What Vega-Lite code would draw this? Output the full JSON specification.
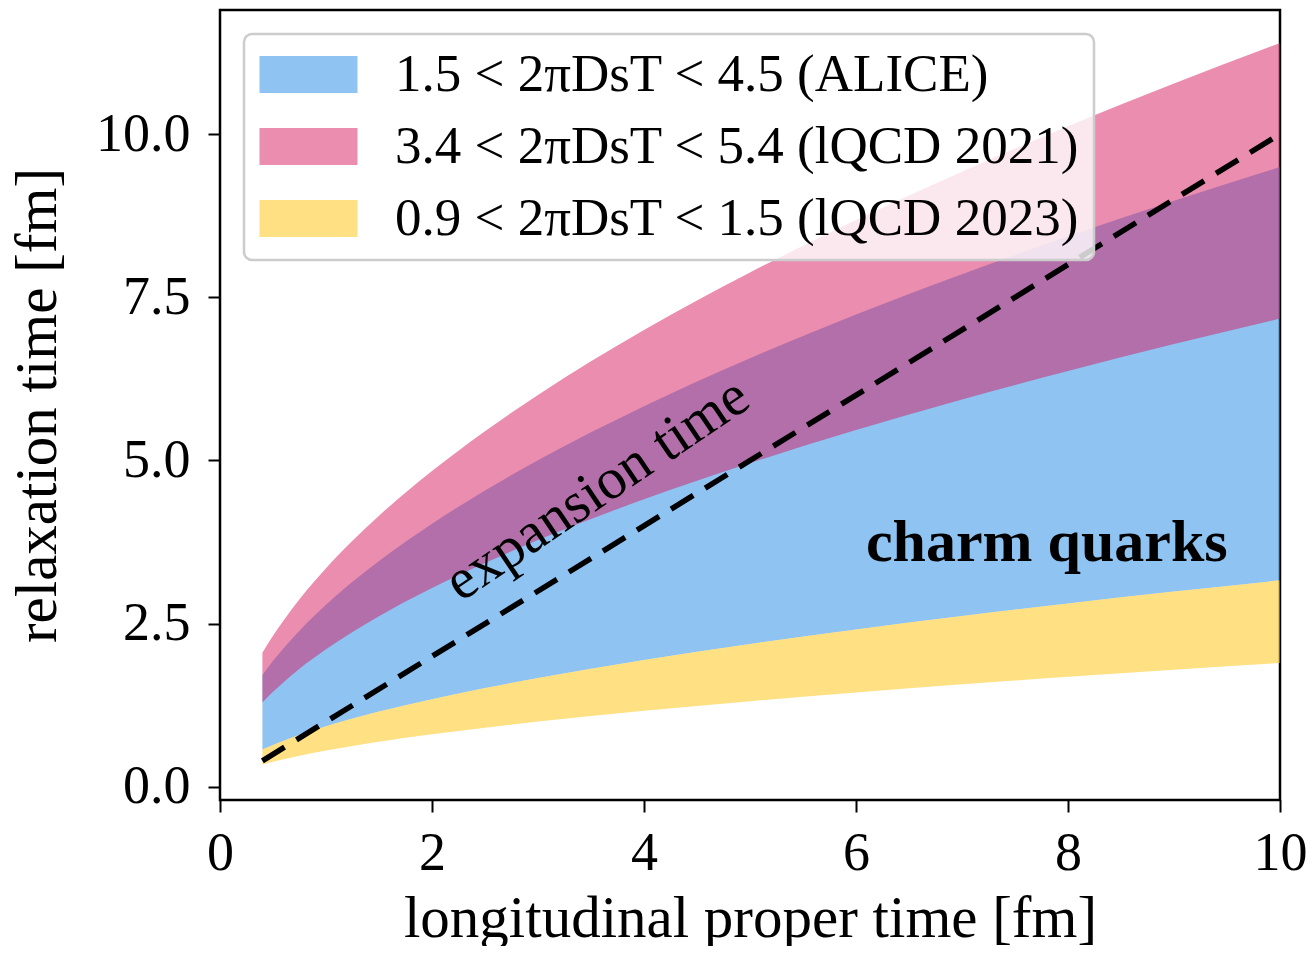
{
  "$schema": "https://vega.github.io/schema/vega-lite/v6.json",
  "width": 1060,
  "height": 790,
  "autosize": {"type": "none"},
  "padding": {"left": 220, "top": 10, "right": 31, "bottom": 146},
  "background": "white",
  "datasets": {
    "bands": [
      {"tau": 0.4, "lo": 0.572, "hi": 1.715, "band": "1.5 < 2πDsT < 4.5 (ALICE)"},
      {"tau": 0.5, "lo": 0.644, "hi": 1.931, "band": "1.5 < 2πDsT < 4.5 (ALICE)"},
      {"tau": 0.6, "lo": 0.708, "hi": 2.124, "band": "1.5 < 2πDsT < 4.5 (ALICE)"},
      {"tau": 0.75, "lo": 0.798, "hi": 2.394, "band": "1.5 < 2πDsT < 4.5 (ALICE)"},
      {"tau": 1, "lo": 0.93, "hi": 2.79, "band": "1.5 < 2πDsT < 4.5 (ALICE)"},
      {"tau": 1.25, "lo": 1.047, "hi": 3.141, "band": "1.5 < 2πDsT < 4.5 (ALICE)"},
      {"tau": 1.5, "lo": 1.154, "hi": 3.461, "band": "1.5 < 2πDsT < 4.5 (ALICE)"},
      {"tau": 2, "lo": 1.344, "hi": 4.032, "band": "1.5 < 2πDsT < 4.5 (ALICE)"},
      {"tau": 2.5, "lo": 1.514, "hi": 4.541, "band": "1.5 < 2πDsT < 4.5 (ALICE)"},
      {"tau": 3, "lo": 1.668, "hi": 5.004, "band": "1.5 < 2πDsT < 4.5 (ALICE)"},
      {"tau": 4, "lo": 1.944, "hi": 5.832, "band": "1.5 < 2πDsT < 4.5 (ALICE)"},
      {"tau": 5, "lo": 2.189, "hi": 6.566, "band": "1.5 < 2πDsT < 4.5 (ALICE)"},
      {"tau": 6, "lo": 2.412, "hi": 7.236, "band": "1.5 < 2πDsT < 4.5 (ALICE)"},
      {"tau": 7, "lo": 2.618, "hi": 7.853, "band": "1.5 < 2πDsT < 4.5 (ALICE)"},
      {"tau": 8, "lo": 2.811, "hi": 8.433, "band": "1.5 < 2πDsT < 4.5 (ALICE)"},
      {"tau": 9, "lo": 2.993, "hi": 8.978, "band": "1.5 < 2πDsT < 4.5 (ALICE)"},
      {"tau": 10, "lo": 3.165, "hi": 9.495, "band": "1.5 < 2πDsT < 4.5 (ALICE)"},
      {"tau": 0.4, "lo": 1.295, "hi": 2.057, "band": "3.4 < 2πDsT < 5.4 (lQCD 2021)"},
      {"tau": 0.5, "lo": 1.459, "hi": 2.317, "band": "3.4 < 2πDsT < 5.4 (lQCD 2021)"},
      {"tau": 0.6, "lo": 1.605, "hi": 2.549, "band": "3.4 < 2πDsT < 5.4 (lQCD 2021)"},
      {"tau": 0.75, "lo": 1.809, "hi": 2.873, "band": "3.4 < 2πDsT < 5.4 (lQCD 2021)"},
      {"tau": 1, "lo": 2.108, "hi": 3.348, "band": "3.4 < 2πDsT < 5.4 (lQCD 2021)"},
      {"tau": 1.25, "lo": 2.373, "hi": 3.769, "band": "3.4 < 2πDsT < 5.4 (lQCD 2021)"},
      {"tau": 1.5, "lo": 2.615, "hi": 4.153, "band": "3.4 < 2πDsT < 5.4 (lQCD 2021)"},
      {"tau": 2, "lo": 3.046, "hi": 4.838, "band": "3.4 < 2πDsT < 5.4 (lQCD 2021)"},
      {"tau": 2.5, "lo": 3.431, "hi": 5.449, "band": "3.4 < 2πDsT < 5.4 (lQCD 2021)"},
      {"tau": 3, "lo": 3.781, "hi": 6.005, "band": "3.4 < 2πDsT < 5.4 (lQCD 2021)"},
      {"tau": 4, "lo": 4.406, "hi": 6.998, "band": "3.4 < 2πDsT < 5.4 (lQCD 2021)"},
      {"tau": 5, "lo": 4.961, "hi": 7.879, "band": "3.4 < 2πDsT < 5.4 (lQCD 2021)"},
      {"tau": 6, "lo": 5.467, "hi": 8.683, "band": "3.4 < 2πDsT < 5.4 (lQCD 2021)"},
      {"tau": 7, "lo": 5.933, "hi": 9.423, "band": "3.4 < 2πDsT < 5.4 (lQCD 2021)"},
      {"tau": 8, "lo": 6.372, "hi": 10.12, "band": "3.4 < 2πDsT < 5.4 (lQCD 2021)"},
      {"tau": 9, "lo": 6.783, "hi": 10.773, "band": "3.4 < 2πDsT < 5.4 (lQCD 2021)"},
      {"tau": 10, "lo": 7.174, "hi": 11.394, "band": "3.4 < 2πDsT < 5.4 (lQCD 2021)"},
      {"tau": 0.4, "lo": 0.343, "hi": 0.572, "band": "0.9 < 2πDsT < 1.5 (lQCD 2023)"},
      {"tau": 0.5, "lo": 0.386, "hi": 0.644, "band": "0.9 < 2πDsT < 1.5 (lQCD 2023)"},
      {"tau": 0.6, "lo": 0.425, "hi": 0.708, "band": "0.9 < 2πDsT < 1.5 (lQCD 2023)"},
      {"tau": 0.75, "lo": 0.479, "hi": 0.798, "band": "0.9 < 2πDsT < 1.5 (lQCD 2023)"},
      {"tau": 1, "lo": 0.558, "hi": 0.93, "band": "0.9 < 2πDsT < 1.5 (lQCD 2023)"},
      {"tau": 1.25, "lo": 0.628, "hi": 1.047, "band": "0.9 < 2πDsT < 1.5 (lQCD 2023)"},
      {"tau": 1.5, "lo": 0.692, "hi": 1.154, "band": "0.9 < 2πDsT < 1.5 (lQCD 2023)"},
      {"tau": 2, "lo": 0.806, "hi": 1.344, "band": "0.9 < 2πDsT < 1.5 (lQCD 2023)"},
      {"tau": 2.5, "lo": 0.908, "hi": 1.514, "band": "0.9 < 2πDsT < 1.5 (lQCD 2023)"},
      {"tau": 3, "lo": 1.001, "hi": 1.668, "band": "0.9 < 2πDsT < 1.5 (lQCD 2023)"},
      {"tau": 4, "lo": 1.166, "hi": 1.944, "band": "0.9 < 2πDsT < 1.5 (lQCD 2023)"},
      {"tau": 5, "lo": 1.313, "hi": 2.189, "band": "0.9 < 2πDsT < 1.5 (lQCD 2023)"},
      {"tau": 6, "lo": 1.447, "hi": 2.412, "band": "0.9 < 2πDsT < 1.5 (lQCD 2023)"},
      {"tau": 7, "lo": 1.571, "hi": 2.618, "band": "0.9 < 2πDsT < 1.5 (lQCD 2023)"},
      {"tau": 8, "lo": 1.687, "hi": 2.811, "band": "0.9 < 2πDsT < 1.5 (lQCD 2023)"},
      {"tau": 9, "lo": 1.796, "hi": 2.993, "band": "0.9 < 2πDsT < 1.5 (lQCD 2023)"},
      {"tau": 10, "lo": 1.899, "hi": 3.165, "band": "0.9 < 2πDsT < 1.5 (lQCD 2023)"}
    ],
    "expansion": [
      {"tau": 0.4, "t": 0.4},
      {"tau": 10, "t": 10}
    ],
    "notes": [
      {"tau": 3.56, "y": 4.55, "note": "expansion time"}
    ],
    "species": [
      {"tau": 7.8, "y": 3.74, "note": "charm quarks"}
    ]
  },
  "config": {
    "font": "Liberation Serif",
    "view": {"stroke": "black", "strokeWidth": 2.5},
    "legend": {"strokeWidth": 2.5},
    "axis": {
      "domain": false,
      "grid": false,
      "ticks": true,
      "tickColor": "black",
      "tickWidth": 2,
      "tickSize": 12,
      "labelColor": "black",
      "labelFont": "Liberation Serif",
      "labelFontSize": 54,
      "labelFlush": false,
      "titleColor": "black",
      "titleFont": "Liberation Serif",
      "titleFontSize": 59,
      "titleFontWeight": "normal"
    }
  },
  "layer": [
    {
      "data": {"name": "bands"},
      "mark": {"type": "area", "opacity": 0.5, "clip": true, "interpolate": "monotone"},
      "encoding": {
        "x": {
          "field": "tau",
          "type": "quantitative",
          "scale": {"domain": [0, 10], "nice": false},
          "axis": {
            "title": "longitudinal proper time [fm]",
            "values": [0, 2, 4, 6, 8, 10],
            "format": "d",
            "labelPadding": 14,
            "titlePadding": 9
          }
        },
        "y": {
          "field": "lo",
          "type": "quantitative",
          "scale": {"domain": [-0.2, 11.9], "nice": false, "zero": false},
          "axis": {
            "title": "relaxation time [fm]",
            "values": [0, 2.5, 5, 7.5, 10],
            "format": ".1f",
            "labelPadding": 18,
            "titlePadding": 28
          }
        },
        "y2": {"field": "hi"},
        "color": {
          "field": "band",
          "type": "nominal",
          "scale": {
            "domain": [
              "1.5 < 2πDsT < 4.5 (ALICE)",
              "3.4 < 2πDsT < 5.4 (lQCD 2021)",
              "0.9 < 2πDsT < 1.5 (lQCD 2023)"
            ],
            "range": ["#1E88E5", "#D81B60", "#FFC107"]
          },
          "legend": {
            "title": null,
            "orient": "top-left",
            "offset": 24,
            "padding": 14,
            "fillColor": "rgba(255,255,255,0.8)",
            "strokeColor": "#cccccc",
            "cornerRadius": 8,
            "symbolType": "M-1,-0.74H2.92V0.74H-1Z",
            "symbolSize": 2500,
            "symbolOpacity": 0.5,
            "symbolStrokeWidth": 0,
            "labelFont": "Liberation Serif",
            "labelFontSize": 53,
            "labelColor": "black",
            "labelOffset": 84,
            "labelLimit": 900,
            "rowPadding": 18
          }
        }
      }
    },
    {
      "data": {"name": "expansion"},
      "mark": {"type": "line", "color": "black", "strokeWidth": 5.5, "strokeDash": [26, 14]},
      "encoding": {
        "x": {"field": "tau", "type": "quantitative"},
        "y": {"field": "t", "type": "quantitative"}
      }
    },
    {
      "data": {"name": "notes"},
      "mark": {"type": "text", "angle": -34, "fontSize": 58, "font": "Liberation Serif", "color": "black", "align": "center", "baseline": "middle"},
      "encoding": {
        "x": {"field": "tau", "type": "quantitative"},
        "y": {"field": "y", "type": "quantitative"},
        "text": {"field": "note"}
      }
    },
    {
      "data": {"name": "species"},
      "mark": {"type": "text", "fontSize": 60, "fontWeight": "bold", "font": "Liberation Serif", "color": "black", "align": "center", "baseline": "middle"},
      "encoding": {
        "x": {"field": "tau", "type": "quantitative"},
        "y": {"field": "y", "type": "quantitative"},
        "text": {"field": "note"}
      }
    }
  ]
}
